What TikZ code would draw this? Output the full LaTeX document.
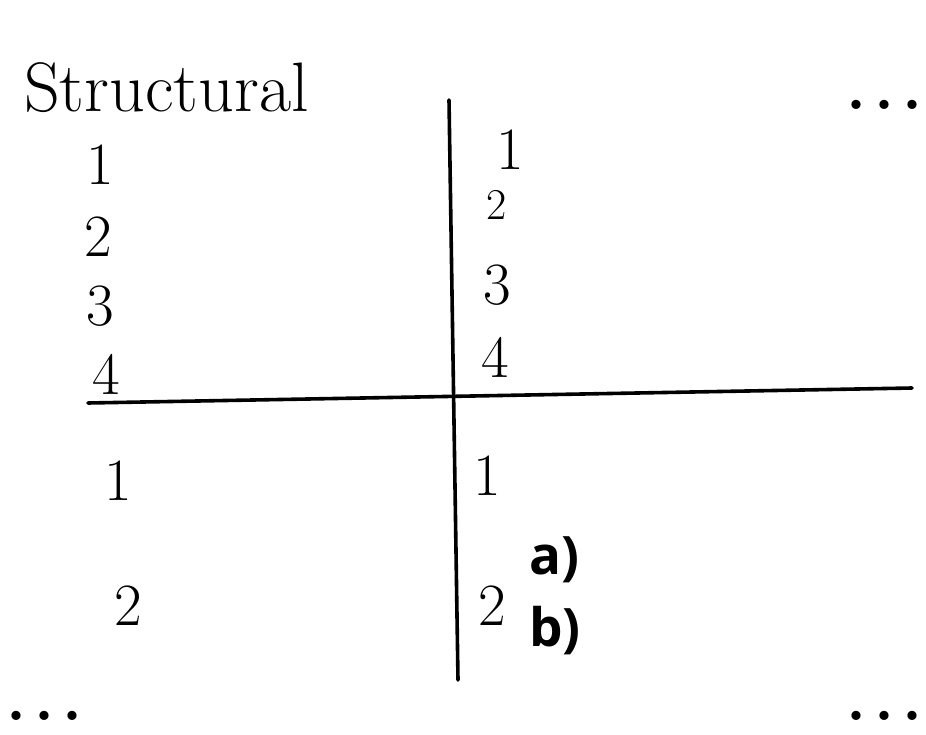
\documentclass[tikz,border=0pt]{standalone}
\usepackage{fontspec}
\newfontfamily\labelfont{Open Sans}
\usetikzlibrary{positioning}
\tikzset{
  sketch/.style={x=1pt, y=-1pt},
  rule/.style={line width=3.6pt, line cap=round},
  title/.style={font=\fontsize{70}{70}\selectfont, anchor=base west, inner sep=0pt},
  digit/.style={font=\fontsize{60}{60}\selectfont, anchor=base, inner sep=0pt},
  smalldigit/.style={font=\fontsize{44}{44}\selectfont, anchor=base, inner sep=0pt},
  item/.style={font=\labelfont\bfseries\fontsize{53}{53}\selectfont, anchor=base west, inner sep=0pt},
  more/.style={font=\bfseries\fontsize{64}{64}\selectfont, anchor=base west, inner sep=0pt}
}
\newcommand{\moredots}{.\hspace{8pt}.\hspace{8pt}.}

\begin{document}
\begin{tikzpicture}[sketch]
\useasboundingbox (0,0) rectangle (926,735);

% Titre
\node[title] (head) at (24,112) {Structural};

% Axes
\coordinate (vtop) at (449,100);
\coordinate (vbot) at (458,680);
\coordinate (hleft) at (88,403);
\coordinate (hright) at (912,388);
\draw[rule] (vtop) -- (vbot);
\draw[rule] (hleft) -- (hright);

% Quadrant haut gauche
\node[digit] (ul1) at (100,185) {1};
\node[digit] (ul2) at (98,257) {2};
\node[digit] (ul3) at (100,325) {3};
\node[digit] (ul4) at (106,394) {4};

% Quadrant haut droit
\node[digit] (ur1) at (510,170) {1};
\node[smalldigit] (ur2) at (497,220) {2};
\node[digit] (ur3) at (497,305) {3};
\node[digit] (ur4) at (495,377) {4};

% Quadrant bas gauche
\node[digit] (ll1) at (118,500) {1};
\node[digit] (ll2) at (128,625) {2};

% Quadrant bas droit
\node[digit] (lr1) at (487,495) {1};
\node[digit] (lr2) at (492,625) {2};
\node[item] (opta) at (529,574) {a)};
\node[item] (optb) at (529,646) {b)};

% Suite
\node[more] (moretr) at (846,110) {\moredots};
\node[more] (morebl) at (6,720) {\moredots};
\node[more] (morebr) at (846,720) {\moredots};

\end{tikzpicture}
\end{document}
